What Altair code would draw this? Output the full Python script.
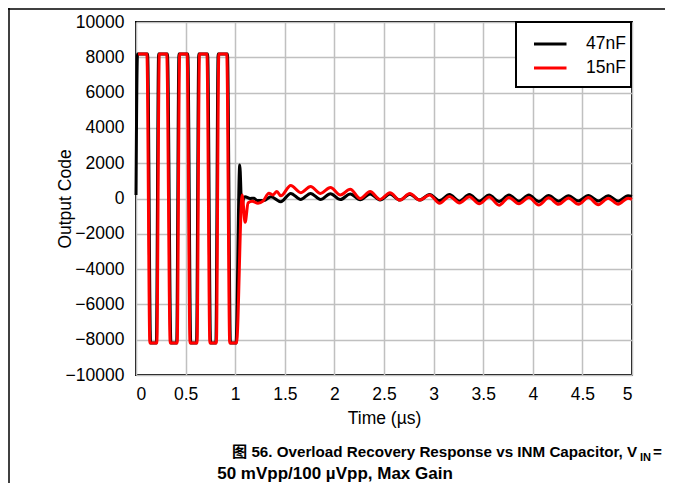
import altair as alt
import pandas as pd

series_names = ["47nF", "15nF"]
series_colors = ["#000000", "#ff0000"]

# 47nF trace: time (µs) and output code
t_47 = [0.0, 0.015, 0.117, 0.147, 0.205, 0.228, 0.317, 0.352, 0.41, 0.433, 0.522,
        0.552, 0.61, 0.633, 0.722, 0.752, 0.805, 0.828, 0.922, 0.952, 1.008,
        1.046, 1.066, 1.08, 1.10, 1.15, 1.19, 1.22, 1.29,
        1.36, 1.46, 1.56, 1.66, 1.76, 1.86, 1.96, 2.06, 2.16, 2.26, 2.36, 2.46,
        2.56, 2.66, 2.76, 2.86, 2.96, 3.06, 3.16, 3.26, 3.36, 3.46, 3.56, 3.66,
        3.76, 3.86, 3.96, 4.06, 4.16, 4.26, 4.36, 4.46, 4.56, 4.66, 4.76, 4.86,
        4.96, 5.0]
v_47 = [200, 8190, 8190, -8190, -8190, 8190, 8190, -8190, -8190, 8190, 8190,
        -8190, -8190, 8190, 8190, -8190, -8190, 8190, 8190, -8190, -8190,
        1900, -550, -100, 100, 0, 20, -120, -120,
        100, -180, 290, -60, 290, -60, 270, -60, 260, -70, 260, -80,
        250, -90, 240, -90, 230, -120, 220, -150, 220, -150, 200, -170,
        200, -160, 200, -170, 170, -150, 160, -140, 170, -140, 150, -150,
        160, 120]

# 15nF trace
t_15 = [0.02, 0.11, 0.14, 0.21, 0.235, 0.31, 0.345, 0.415, 0.44, 0.515,
        0.545, 0.615, 0.64, 0.715, 0.745, 0.81, 0.835, 0.915, 0.945, 1.013,
        1.07, 1.10, 1.13, 1.17, 1.23, 1.28, 1.34, 1.38, 1.42, 1.46,
        1.56, 1.66, 1.76, 1.86, 1.96, 2.06, 2.16, 2.26, 2.36, 2.46,
        2.56, 2.66, 2.76, 2.86, 2.96, 3.06, 3.16, 3.26, 3.36, 3.46, 3.56, 3.66,
        3.76, 3.86, 3.96, 4.06, 4.16, 4.26, 4.36, 4.46, 4.56, 4.66, 4.76, 4.86,
        4.96, 5.0]
v_15 = [8190, 8190, -8190, -8190, 8190, 8190, -8190, -8190, 8190, 8190,
        -8190, -8190, 8190, 8190, -8190, -8190, 8190, 8190, -8190, -8190,
        200, -1350, -250, -150, -270, -150, 300, 200, 400, 150,
        740, 330, 680, 290, 620, 200, 520, 0, 390, -50,
        330, -90, 280, -90, 200, -270, 120, -250, 100, -300, 80, -380,
        60, -300, 50, -370, 40, -330, 30, -330, 50, -350, 20, -320,
        20, -50]

x_ticks = [0, 0.5, 1, 1.5, 2, 2.5, 3, 3.5, 4, 4.5, 5]
y_ticks = [-10000, -8000, -6000, -4000, -2000, 0, 2000, 4000, 6000, 8000, 10000]

caption_1 = "图 56. Overload Recovery Response vs INM Capacitor, V"
caption_sub = "IN"
caption_eq = "="
caption_2 = "50 mVpp/100 µVpp, Max Gain"

FONT = "Liberation Sans"
CAP_FONT = "Liberation Sans, Noto Sans CJK SC"

df47 = pd.DataFrame({"t": t_47, "v": v_47, "s": series_names[0]})
df15 = pd.DataFrame({"t": t_15, "v": v_15, "s": series_names[1]})
one = pd.DataFrame({"k": [0]})

color = alt.Color(
    "s:N",
    scale=alt.Scale(domain=series_names, range=series_colors),
    legend=alt.Legend(
        title=None, orient="none", legendX=405.5, legendY=13.25,
        symbolType="M-2.5,0L2.5,0", symbolSize=169, symbolStrokeWidth=3,
        labelFont=FONT, labelFontSize=17.5, labelColor="black",
        labelOffset=27, rowPadding=5, padding=0,
    ),
)
x = alt.X("t:Q", scale=alt.Scale(domain=[0, 5], nice=False),
          axis=alt.Axis(values=x_ticks, format="~g", title="Time (µs)",
                        labelPadding=10, titleY=34, titleBaseline="top"))
y = alt.Y("v:Q", scale=alt.Scale(domain=[-10000, 10000], nice=False),
          axis=alt.Axis(values=y_ticks, format="d", title="Output Code",
                        labelPadding=12, titleX=-62, titleY=176.5,
                        titleAngle=270, titleBaseline="bottom", titleAlign="center"))

line47 = alt.Chart(df47).mark_line(strokeWidth=3, interpolate="monotone").encode(x=x, y=y, color=color)
line15 = alt.Chart(df15).mark_line(strokeWidth=3, interpolate="monotone").encode(x=x, y=y, color=color)

legend_box = alt.Chart(one).mark_rect(fill="white", stroke="black", strokeWidth=2).encode(
    x=alt.value(380), x2=alt.value(495), y=alt.value(0), y2=alt.value(65))

top_line = alt.Chart(one).mark_rule(color="black", strokeWidth=1.5).encode(
    x=alt.value(-128), x2=alt.value(529), y=alt.value(-13))
left_line = alt.Chart(one).mark_rule(color="black", strokeWidth=1.5).encode(
    x=alt.value(-127), y=alt.value(-14), y2=alt.value(461))

cap_style = dict(font=CAP_FONT, fontWeight="bold", color="black", baseline="alphabetic")
cap1 = alt.Chart(one).mark_text(align="left", fontSize=15.2, **cap_style).encode(
    x=alt.value(96), y=alt.value(435), text=alt.value(caption_1))
cap_sub = alt.Chart(one).mark_text(align="left", fontSize=11, **cap_style).encode(
    x=alt.value(504), y=alt.value(439), text=alt.value(caption_sub))
cap_eq = alt.Chart(one).mark_text(align="left", fontSize=15.2, **cap_style).encode(
    x=alt.value(517), y=alt.value(435), text=alt.value(caption_eq))
cap2 = alt.Chart(one).mark_text(align="center", fontSize=17, **cap_style).encode(
    x=alt.value(199), y=alt.value(456.5), text=alt.value(caption_2))

chart = alt.layer(line47, line15, legend_box, top_line, left_line, cap1, cap_sub, cap_eq, cap2).properties(
    width=496, height=353,
    autosize=alt.AutoSizeParams(type="none"),
    padding={"left": 128, "top": 14, "right": 33, "bottom": 108},
).configure_view(stroke="black", strokeWidth=2).configure_axis(
    grid=True, gridColor="#c0c0c0", gridWidth=1.5, domain=False, ticks=False,
    labelFont=FONT, labelFontSize=17.5, labelColor="black",
    titleFont=FONT, titleFontSize=17.5, titleFontWeight="normal", titleColor="black",
)

chart.save("out.html", embed_options={"renderer": "svg", "actions": False})
